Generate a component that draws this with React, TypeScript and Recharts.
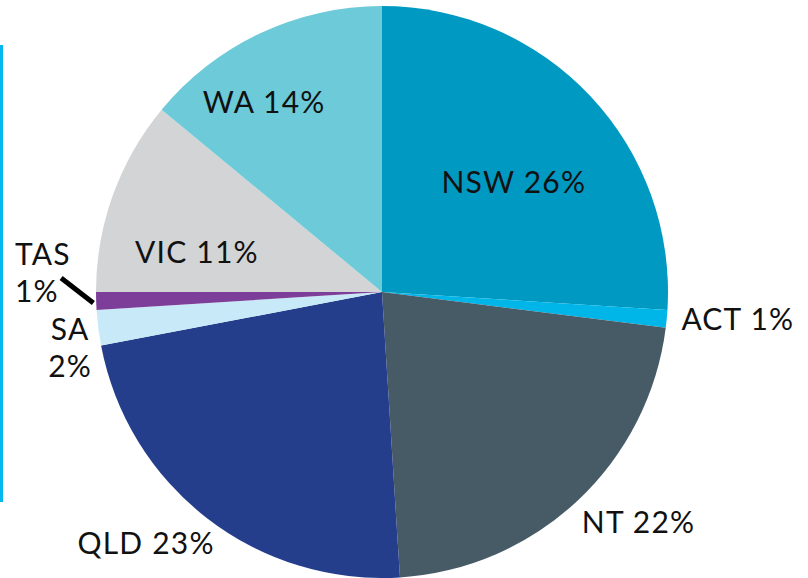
import React from "react";
import { PieChart, Pie, Cell } from "recharts";

// share of total by state / territory, clockwise from 12 o'clock
const states = ["NSW", "ACT", "NT", "QLD", "SA", "TAS", "VIC", "WA"];
const shares = [26, 1, 22, 23, 2, 1, 11, 14];

const sliceColors = [
  "#0099c1",
  "#00b5e8",
  "#475b67",
  "#253e8c",
  "#c7e9f8",
  "#7c3e98",
  "#d2d4d5",
  "#6ccad9",
];

// label placement: radius as a factor of outerRadius, angle nudge in degrees (clockwise)
const labelPlacement: Record<
  string,
  { r: number; da: number; split?: boolean; anchor?: "start" | "middle" | "end" }
> = {
  NSW: { r: 0.6, da: 3.4 },
  ACT: { r: 1.248, da: -1.0 },
  NT: { r: 1.205, da: -4.9 },
  QLD: { r: 1.205, da: 5.4 },
  SA: { r: 1.108, da: -3.0, split: true },
  TAS: { r: 1.285, da: 4.8, split: true, anchor: "start" },
  VIC: { r: 0.662, da: -7.6 },
  WA: { r: 0.78, da: -6.7 },
};

const data = states.map((name, i) => ({ name, value: shares[i] }));

const FONT = "Lato, 'Open Sans', sans-serif";
const FONT_SIZE = 30;
const LINE_GAP = 37;

const polar = (cx: number, cy: number, r: number, clockDeg: number) => {
  const a = (clockDeg * Math.PI) / 180;
  return { x: cx + r * Math.sin(a), y: cy - r * Math.cos(a) };
};

const textProps = {
  fill: "#111",
  fontFamily: FONT,
  fontSize: FONT_SIZE,
  letterSpacing: 1.2,
  dy: "0.36em",
};

const renderLabel = (props: any) => {
  const { cx, cy, midAngle, outerRadius, name, value } = props;
  const place = labelPlacement[name];
  if (!place) return null;
  const clock = 90 - midAngle;
  const p = polar(cx, cy, outerRadius * place.r, clock + place.da);
  const anchor = place.anchor ?? "middle";
  const text = `${value}%`;

  let leader = null;
  if (name === "TAS") {
    const a = polar(cx, cy, outerRadius * 1.01, clock - 0.4);
    const b = polar(cx, cy, outerRadius * 1.123, clock + 4.3);
    leader = (
      <line
        x1={a.x}
        y1={a.y}
        x2={b.x}
        y2={b.y}
        stroke="#000"
        strokeWidth={5}
        fill="none"
      />
    );
  }

  if (place.split) {
    return (
      <g>
        {leader}
        <text x={p.x} y={p.y - LINE_GAP / 2} textAnchor={anchor} {...textProps}>
          {name}
        </text>
        <text x={p.x} y={p.y + LINE_GAP / 2} textAnchor={anchor} {...textProps}>
          {text}
        </text>
      </g>
    );
  }

  return (
    <text x={p.x} y={p.y} textAnchor={anchor} {...textProps}>
      {`${name} ${text}`}
    </text>
  );
};

export default function App() {
  return (
    <div
      style={{
        position: "absolute",
        left: 0,
        top: 0,
        width: 808,
        height: 578,
        background: "#fff",
        overflow: "hidden",
      }}
    >
      <div
        style={{
          position: "absolute",
          left: 0,
          top: 45,
          width: 3,
          height: 457,
          background: "#00b7f0",
        }}
      />
      <PieChart width={808} height={578} margin={{ top: 0, right: 0, bottom: 0, left: 0 }}>
        <Pie
          data={data}
          dataKey="value"
          nameKey="name"
          cx={382}
          cy={292}
          outerRadius={286}
          startAngle={90}
          endAngle={-270}
          stroke="none"
          label={renderLabel}
          labelLine={false}
          isAnimationActive={false}
        >
          {data.map((d, i) => (
            <Cell key={d.name} fill={sliceColors[i]} />
          ))}
        </Pie>
      </PieChart>
    </div>
  );
}
